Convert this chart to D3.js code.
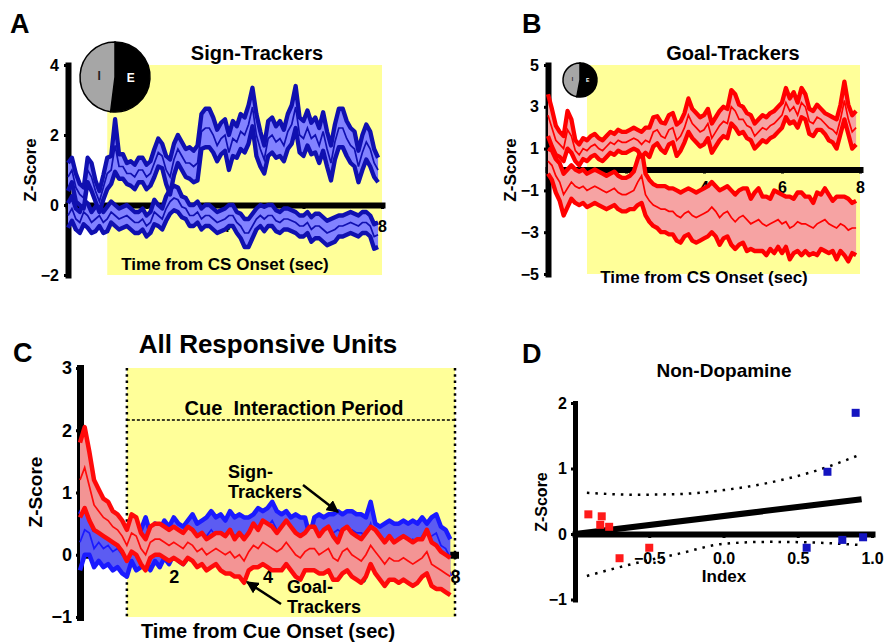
<!DOCTYPE html>
<html>
<head>
<meta charset="utf-8">
<script src="https://cdn.jsdelivr.net/npm/d3@7"></script>
<style>
  body { margin: 0; background: #fff; }
  svg { display: block; font-family: "Liberation Sans", Arial, sans-serif; font-weight: bold; }
  text { white-space: pre; }
</style>
</head>
<body>
<div id="figure"></div>
<script>
// bin width of the PSTH traces (sec)
const binSec = 0.1;

// A: sign-trackers, excitatory / inhibitory units (mean and SEM, z-score)
const signExcMean = [
  0.8, 1.0, 0.5, 0.3, 0.2, 1.0, 0.8, 0.4, 0.1, 0.5,
  0.9, 1.0, 1.7, 1.1, 1.1, 0.9, 0.9, 0.8, 1.0, 1.0,
  0.8, 0.9, 1.2, 1.5, 1.4, 1.0, 0.8, 1.3, 1.6, 1.4,
  1.2, 1.2, 1.1, 1.2, 2.1, 2.2, 2.2, 2.0, 1.7, 1.9,
  2.0, 1.5, 1.9, 1.8, 2.1, 2.0, 2.3, 2.8, 2.0, 1.6,
  1.3, 1.9, 2.0, 1.8, 1.9, 1.7, 2.1, 2.3, 2.8, 2.0,
  1.9, 2.2, 1.9, 2.0, 1.7, 2.1, 1.6, 1.2, 1.8, 2.2,
  2.2, 1.9, 1.7, 1.6, 1.1, 1.5, 1.8, 1.6, 1.2, 1.0];
const signExcSem = [
  0.4, 0.35, 0.4, 0.3, 0.3, 0.35, 0.4, 0.3, 0.3, 0.35,
  0.45, 0.4, 0.75, 0.35, 0.35, 0.3, 0.35, 0.35, 0.35, 0.35,
  0.35, 0.35, 0.4, 0.4, 0.35, 0.4, 0.5, 0.45, 0.4, 0.4,
  0.4, 0.45, 0.45, 0.5, 0.5, 0.55, 0.55, 0.5, 0.45, 0.45,
  0.45, 0.5, 0.5, 0.45, 0.5, 0.5, 0.55, 0.55, 0.6, 0.5,
  0.4, 0.5, 0.5, 0.45, 0.5, 0.45, 0.5, 0.55, 0.6, 0.5,
  0.5, 0.5, 0.45, 0.5, 0.5, 0.55, 0.5, 0.5, 0.5, 0.55,
  0.55, 0.5, 0.5, 0.5, 0.45, 0.5, 0.5, 0.5, 0.4, 0.35];
const signInhMean = [
  -0.3, -0.1, -0.4, -0.5, -0.2, -0.3, -0.5, -0.4, -0.3, -0.5,
  -0.4, -0.2, -0.3, -0.4, -0.35, -0.3, -0.4, -0.5, -0.5, -0.4,
  -0.6, -0.5, -0.2, -0.3, -0.4, -0.1, 0.1, 0.2, 0.15, -0.05,
  -0.1, -0.3, -0.3, -0.2, -0.4, -0.3, -0.3, -0.4, -0.5, -0.45,
  -0.4, -0.3, -0.3, -0.5, -0.6, -0.8, -0.8, -0.6, -0.4, -0.3,
  -0.4, -0.3, -0.3, -0.45, -0.5, -0.4, -0.4, -0.45, -0.5, -0.6,
  -0.6, -0.5, -0.7, -0.6, -0.6, -0.7, -0.8, -0.75, -0.7, -0.6,
  -0.6, -0.55, -0.5, -0.55, -0.6, -0.5, -0.5, -0.6, -0.9, -0.85];
const signInhSem = [
  0.35, 0.35, 0.3, 0.3, 0.35, 0.35, 0.3, 0.35, 0.3, 0.3,
  0.35, 0.3, 0.3, 0.3, 0.3, 0.3, 0.3, 0.3, 0.3, 0.3,
  0.3, 0.3, 0.35, 0.3, 0.3, 0.35, 0.35, 0.35, 0.35, 0.3,
  0.3, 0.3, 0.3, 0.3, 0.3, 0.3, 0.3, 0.3, 0.3, 0.3,
  0.3, 0.3, 0.3, 0.3, 0.35, 0.4, 0.4, 0.35, 0.3, 0.3,
  0.35, 0.3, 0.3, 0.3, 0.3, 0.3, 0.3, 0.3, 0.3, 0.3,
  0.3, 0.3, 0.35, 0.35, 0.35, 0.35, 0.35, 0.35, 0.35, 0.3,
  0.3, 0.3, 0.3, 0.3, 0.3, 0.3, 0.3, 0.3, 0.35, 0.35];

// B: goal-trackers
const goalExcMean = [
  2.6, 2.0, 1.4, 1.2, 1.0, 1.9, 1.6, 0.9, 0.7, 1.0,
  0.9, 1.1, 1.2, 1.0, 0.9, 1.1, 1.3, 1.2, 1.4, 1.3,
  1.3, 1.4, 1.5, 1.4, 1.2, 1.4, 1.3, 1.8, 1.9, 1.6,
  1.5, 1.9, 2.0, 1.4, 1.6, 2.0, 2.6, 2.2, 2.0, 1.8,
  1.9, 2.2, 1.5, 1.8, 2.1, 2.3, 2.2, 3.0, 2.8, 2.4,
  2.4, 2.1, 2.0, 1.6, 1.8, 2.0, 1.9, 2.1, 2.2, 2.4,
  2.6, 3.2, 2.8, 3.0, 2.6, 3.2, 3.0, 2.3, 2.2, 2.5,
  2.4, 2.2, 2.0, 1.9, 1.7, 2.4, 3.3, 2.4, 1.8, 2.0];
const goalExcSem = [
  1.0, 0.9, 0.7, 0.6, 0.6, 0.9, 0.8, 0.5, 0.5, 0.5,
  0.5, 0.5, 0.5, 0.5, 0.5, 0.5, 0.5, 0.5, 0.5, 0.5,
  0.5, 0.5, 0.5, 0.5, 0.6, 0.6, 0.7, 0.7, 0.65, 0.65,
  0.7, 0.7, 0.7, 0.75, 0.7, 0.7, 0.8, 0.7, 0.7, 0.7,
  0.7, 0.7, 0.7, 0.7, 0.7, 0.7, 0.7, 0.8, 0.8, 0.7,
  0.6, 0.6, 0.6, 0.6, 0.6, 0.6, 0.6, 0.6, 0.6, 0.6,
  0.6, 0.7, 0.6, 0.7, 0.6, 0.7, 0.6, 0.6, 0.6, 0.6,
  0.5, 0.5, 0.6, 0.6, 0.7, 0.7, 0.9, 0.7, 0.8, 0.8];
const goalInhMean = [
  0.4, 0.2, -0.3, -0.6, -1.2, -0.9, -0.6, -0.8, -0.9, -0.8,
  -1.0, -0.9, -0.8, -0.9, -1.0, -1.1, -1.0, -0.9, -1.1, -1.2,
  -1.2, -1.1, -1.0, -0.6, -0.3, -1.2, -1.5, -1.7, -1.8, -1.9,
  -1.9, -2.0, -2.0, -2.2, -2.3, -2.1, -2.0, -2.2, -2.3, -2.2,
  -2.1, -2.0, -1.8, -2.0, -2.3, -2.1, -2.0, -2.3, -2.5, -2.3,
  -2.2, -2.4, -2.6, -2.5, -2.4, -2.6, -2.7, -2.6, -2.5, -2.4,
  -2.6, -2.5, -2.8, -2.7, -2.5, -2.6, -2.6, -2.7, -2.8, -2.6,
  -2.5, -2.4, -2.6, -2.7, -2.8, -2.6, -2.7, -2.9, -2.8, -2.8];
const goalInhSem = [
  0.6, 0.7, 0.8, 0.9, 1.0, 0.9, 0.8, 0.8, 0.8, 0.8,
  0.8, 0.8, 0.8, 0.8, 0.8, 0.8, 0.8, 0.8, 0.8, 0.8,
  0.8, 0.8, 0.9, 1.1, 1.3, 1.0, 1.0, 1.0, 1.0, 1.1,
  1.1, 1.1, 1.1, 1.2, 1.2, 1.1, 1.1, 1.2, 1.2, 1.2,
  1.2, 1.2, 1.2, 1.2, 1.3, 1.2, 1.2, 1.3, 1.3, 1.3,
  1.3, 1.5, 1.2, 1.4, 1.5, 1.3, 1.4, 1.2, 1.5, 1.3,
  1.4, 1.2, 1.5, 1.3, 1.4, 1.5, 1.3, 1.4, 1.2, 1.5,
  1.3, 1.5, 1.4, 1.2, 1.5, 1.3, 1.4, 1.5, 1.2, 1.3];

// C: all responsive units
const allSignMean = [
  0.2, 0.4, 0.35, 0.1, 0.2, 0.1, 0.15, 0.05, 0.1, 0.0,
  -0.05, 0.25, 0.05, 0.1, 0.25, 0.05, 0.2, 0.1, 0.25, 0.15,
  0.3, 0.2, 0.15, 0.25, 0.35, 0.2, 0.25, 0.3, 0.4, 0.3,
  0.35, 0.25, 0.4, 0.3, 0.35, 0.3, 0.3, 0.35, 0.45, 0.4,
  0.45, 0.55, 0.4, 0.35, 0.4, 0.3, 0.35, 0.3, 0.3, 0.05,
  0.3, 0.35, 0.3, 0.35, 0.35, 0.4, 0.35, 0.4, 0.4, 0.35,
  0.35, 0.3, 0.5, 0.2, 0.15, 0.2, 0.25, 0.2, 0.2, 0.25,
  0.2, 0.25, 0.2, 0.3, 0.2, 0.3, 0.35, 0.15, 0.1, -0.05];
const allSignSem = [
  0.45, 0.4, 0.35, 0.3, 0.3, 0.3, 0.3, 0.3, 0.3, 0.3,
  0.3, 0.35, 0.3, 0.3, 0.35, 0.3, 0.3, 0.3, 0.3, 0.3,
  0.3, 0.3, 0.3, 0.3, 0.3, 0.3, 0.3, 0.3, 0.3, 0.3,
  0.3, 0.3, 0.3, 0.3, 0.3, 0.3, 0.3, 0.3, 0.3, 0.3,
  0.3, 0.3, 0.3, 0.3, 0.3, 0.3, 0.3, 0.3, 0.3, 0.25,
  0.3, 0.3, 0.3, 0.3, 0.3, 0.3, 0.3, 0.3, 0.3, 0.3,
  0.3, 0.3, 0.35, 0.3, 0.3, 0.3, 0.3, 0.3, 0.3, 0.3,
  0.3, 0.3, 0.3, 0.3, 0.3, 0.3, 0.3, 0.3, 0.3, 0.3];
const allGoalMean = [
  1.2, 1.4, 1.1, 0.8, 0.7, 0.6, 0.55, 0.45, 0.4, 0.3,
  0.15, 0.35, 0.3, 0.1, 0.0, 0.2, 0.25, 0.25, 0.2, 0.15,
  0.2, 0.15, 0.1, 0.2, 0.15, 0.05, 0.1, 0.0, 0.05, 0.1,
  0.05, 0.0, 0.05, -0.05, 0.0, -0.1, 0.05, 0.15, 0.1, 0.2,
  0.15, 0.1, 0.05, 0.1, 0.2, 0.1, 0.0, -0.05, 0.05, 0.1,
  0.1, 0.0, 0.05, 0.1, -0.05, -0.1, 0.05, 0.1, 0.0, -0.05,
  -0.1, 0.0, 0.15, 0.05, -0.05, -0.15, -0.05, -0.1, -0.1, -0.05,
  -0.1, -0.15, -0.1, -0.05, 0.05, -0.15, -0.2, -0.25, -0.3, -0.35];
const allGoalSem = [
  0.6, 0.65, 0.55, 0.4, 0.35, 0.3, 0.3, 0.25, 0.25, 0.25,
  0.25, 0.3, 0.3, 0.25, 0.25, 0.25, 0.25, 0.25, 0.25, 0.25,
  0.25, 0.25, 0.25, 0.25, 0.25, 0.25, 0.25, 0.25, 0.25, 0.25,
  0.3, 0.3, 0.35, 0.3, 0.35, 0.35, 0.3, 0.35, 0.3, 0.35,
  0.35, 0.35, 0.3, 0.35, 0.35, 0.35, 0.35, 0.35, 0.3, 0.35,
  0.35, 0.3, 0.35, 0.35, 0.35, 0.3, 0.35, 0.35, 0.35, 0.35,
  0.35, 0.35, 0.3, 0.35, 0.35, 0.35, 0.35, 0.3, 0.35, 0.35,
  0.35, 0.35, 0.35, 0.3, 0.35, 0.35, 0.35, 0.3, 0.3, 0.3];

// D: non-dopamine units, cue index vs z-score
const redIndex  = [-0.91, -0.82, -0.83, -0.77, -0.70, -0.50];
const redZ      = [0.30, 0.27, 0.14, 0.11, -0.37, -0.21];
const blueIndex = [0.56, 0.70, 0.80, 0.89, 0.94];
const blueZ     = [-0.21, 0.95, -0.09, 1.85, -0.05];
const fitIndex  = [-1.0, 0.93];
const fitZ      = [0.0, 0.53];
const ciIndex   = [-0.92, -0.6, -0.3, 0.0, 0.3, 0.6, 0.93];
const ciUpper   = [0.63, 0.60, 0.61, 0.67, 0.78, 0.95, 1.22];
const ciLower   = [-0.64, -0.45, -0.30, -0.15, -0.12, -0.13, -0.17];

// unit type proportions (E = excitatory, I = inhibitory)
const pieLabels = ["E", "I"];
const pieA = [52, 48];
const pieB = [53, 47];

const timeTicks = [2, 4, 6, 8];
const ticksAy = [-2, 0, 2, 4];
const ticksBy = [-5, -3, -1, 1, 3, 5];
const ticksCy = [-1, 0, 1, 2, 3];
const ticksDy = [-1, 0, 1, 2];
const ticksDx = [-0.5, 0.0, 0.5, 1.0];

const W = 893, H = 644;
const YELLOW = "#ffff99";

const svg = d3.select("#figure").append("svg")
  .attr("width", W).attr("height", H);
svg.append("rect").attr("width", W).attr("height", H).attr("fill", "#fff");

svg.append("defs").append("marker")
  .attr("id", "arrow").attr("viewBox", "0 0 10 10")
  .attr("refX", 9).attr("refY", 5)
  .attr("markerWidth", 5).attr("markerHeight", 5)
  .attr("orient", "auto")
  .append("path").attr("d", "M0,0L10,5L0,10z").attr("fill", "#000");

function txt(x, y, s, size, anchor, rot) {
  const t = svg.append("text")
    .attr("x", x).attr("y", y)
    .attr("font-size", size)
    .attr("text-anchor", anchor || "middle")
    .attr("fill", "#000")
    .text(s);
  if (rot) t.attr("transform", `rotate(${rot},${x},${y})`);
  return t;
}

// thick black axes in the style of the figure
function styleAxis(g, fs, lw) {
  g.select(".domain").attr("stroke", "#000").attr("stroke-width", lw).attr("stroke-linecap", "square");
  g.selectAll(".tick line").attr("stroke", "#000").attr("stroke-width", 3);
  g.selectAll(".tick text").attr("font-size", fs).attr("font-weight", "bold")
    .attr("font-family", "Liberation Sans, Arial, sans-serif").attr("fill", "#000");
}

function drawBand(g, x, y, mean, sem, lineColor, fillColor, edgeW) {
  const pts = mean.map((m, i) => ({t: i * binSec, m: m, s: sem[i]}));
  g.append("path").datum(pts)
    .attr("fill", fillColor)
    .attr("d", d3.area().x(d => x(d.t)).y0(d => y(d.m - d.s)).y1(d => y(d.m + d.s)));
  [d => d.m + d.s, d => d.m - d.s].forEach(f => {
    g.append("path").datum(pts)
      .attr("fill", "none").attr("stroke", lineColor).attr("stroke-width", edgeW)
      .attr("stroke-linejoin", "round")
      .attr("d", d3.line().x(d => x(d.t)).y(d => y(f(d))));
  });
  g.append("path").datum(pts)
    .attr("fill", "none").attr("stroke", lineColor).attr("stroke-width", 1.7)
    .attr("d", d3.line().x(d => x(d.t)).y(d => y(d.m)));
}

function drawPie(cx, cy, r, values, fs) {
  const arcs = d3.pie().sort(null)(values);
  const arc = d3.arc().innerRadius(0).outerRadius(r);
  const g = svg.append("g").attr("transform", `translate(${cx},${cy})`);
  g.selectAll("path").data(arcs).join("path")
    .attr("d", arc)
    .attr("fill", (d, i) => i === 0 ? "#000" : "#a6a6a6")
    .attr("stroke", "#000").attr("stroke-width", 1.5);
  g.selectAll("text").data(arcs).join("text")
    .attr("transform", d => `translate(${d3.arc().innerRadius(r * 0.45).outerRadius(r * 0.45).centroid(d)})`)
    .attr("text-anchor", "middle").attr("dy", "0.35em")
    .attr("font-size", fs)
    .attr("fill", (d, i) => i === 0 ? "#fff" : "#222")
    .text((d, i) => pieLabels[i]);
}

const intFmt = d3.format("d");

// ---------- Panel A ----------
{
  const x = d3.scaleLinear().domain([0, 8]).range([68, 382]);
  const y = d3.scaleLinear().domain([-2, 4]).range([275, 65]);
  svg.append("rect").attr("x", x(1)).attr("y", y(4)).attr("width", x(8) - x(1)).attr("height", y(-2) - y(4)).attr("fill", YELLOW);
  const gx = svg.append("g").attr("transform", `translate(0,${y(0)})`)
    .call(d3.axisBottom(x).tickValues(timeTicks).tickFormat(intFmt).tickSize(4).tickSizeOuter(0).tickPadding(12));
  styleAxis(gx, 16, 6);
  const gy = svg.append("g").attr("transform", `translate(${x(0)},0)`)
    .call(d3.axisLeft(y).tickValues(ticksAy).tickFormat(intFmt).tickSize(4).tickSizeOuter(0).tickPadding(5));
  styleAxis(gy, 16, 6);
  const g = svg.append("g");
  drawBand(g, x, y, signInhMean, signInhSem, "#1010b0", "#8282ff", 4.3);
  drawBand(g, x, y, signExcMean, signExcSem, "#1010b0", "#8282ff", 4.3);
  drawPie(115, 77, 35, pieA, 12);
  txt(10, 33, "A", 27, "start");
  txt(257, 60, "Sign-Trackers", 20);
  txt(225, 270, "Time from CS Onset (sec)", 17);
  txt(36, 170, "Z-Score", 17, "middle", -90);
}

// ---------- Panel B ----------
{
  const x = d3.scaleLinear().domain([0, 8]).range([548, 860]);
  const y = d3.scaleLinear().domain([-5, 5]).range([274, 65]);
  svg.append("rect").attr("x", x(1)).attr("y", y(5)).attr("width", x(8) - x(1)).attr("height", y(-5) - y(5)).attr("fill", YELLOW);
  const gx = svg.append("g").attr("transform", `translate(0,${y(0)})`)
    .call(d3.axisBottom(x).tickValues(timeTicks).tickFormat(intFmt).tickSize(4).tickSizeOuter(0).tickPadding(8));
  styleAxis(gx, 16, 6);
  const gy = svg.append("g").attr("transform", `translate(${x(0)},0)`)
    .call(d3.axisLeft(y).tickValues(ticksBy).tickFormat(intFmt).tickSize(4).tickSizeOuter(0).tickPadding(5));
  styleAxis(gy, 16, 6);
  const g = svg.append("g");
  drawBand(g, x, y, goalInhMean, goalInhSem, "#ff0000", "#f6a3a3", 4.3);
  drawBand(g, x, y, goalExcMean, goalExcSem, "#ff0000", "#f6a3a3", 4.3);
  drawPie(580, 80, 17, pieB, 5);
  txt(522, 33, "B", 27, "start");
  txt(733, 60, "Goal-Trackers", 20);
  txt(704, 283, "Time from CS Onset (sec)", 17);
  txt(516, 170, "Z-Score", 17, "middle", -90);
}

// ---------- Panel C ----------
{
  const x = d3.scaleLinear().domain([0, 8]).range([80, 455]);
  const y = d3.scaleLinear().domain([-1, 3]).range([617, 368]);
  svg.append("rect").attr("x", x(1)).attr("y", y(3)).attr("width", x(8) - x(1)).attr("height", y(-1) - y(3)).attr("fill", YELLOW);
  [1, 8].forEach(t => svg.append("line")
    .attr("x1", x(t)).attr("x2", x(t)).attr("y1", y(3)).attr("y2", y(-1))
    .attr("stroke", "#000").attr("stroke-width", 2.5).attr("stroke-dasharray", "2.5,3.8"));
  svg.append("line").attr("x1", x(1)).attr("x2", x(8)).attr("y1", 420).attr("y2", 420)
    .attr("stroke", "#000").attr("stroke-width", 1.5).attr("stroke-dasharray", "3,2");
  const gx = svg.append("g").attr("transform", `translate(0,${y(0)})`)
    .call(d3.axisBottom(x).tickValues(timeTicks).tickFormat(intFmt).tickSize(4).tickSizeOuter(0).tickPadding(11));
  styleAxis(gx, 18, 7);
  const gy = svg.append("g").attr("transform", `translate(${x(0)},0)`)
    .call(d3.axisLeft(y).tickValues(ticksCy).tickFormat(intFmt).tickSize(4).tickSizeOuter(0).tickPadding(4));
  styleAxis(gy, 18, 7);
  const g = svg.append("g");
  drawBand(g, x, y, allSignMean, allSignSem, "#1a1aff", "#5c5cf2", 4.5);
  drawBand(g, x, y, allGoalMean, allGoalSem, "#ff0a0a", "#f39494", 4.5);
  txt(13, 362, "C", 27, "start");
  txt(268, 353, "All Responsive Units", 26);
  txt(294, 415, "Cue  Interaction Period", 20);
  txt(268, 638, "Time from Cue Onset (sec)", 20);
  txt(42, 492, "Z-Score", 19, "middle", -90);
  txt(228, 478, "Sign-", 18, "start");
  txt(228, 498, "Trackers", 18, "start");
  txt(287, 593, "Goal-", 18, "start");
  txt(287, 613, "Trackers", 18, "start");
  svg.append("line").attr("x1", 303).attr("y1", 485).attr("x2", 338).attr("y2", 512)
    .attr("stroke", "#000").attr("stroke-width", 2.5).attr("marker-end", "url(#arrow)");
  svg.append("line").attr("x1", 281).attr("y1", 604).attr("x2", 247).attr("y2", 582)
    .attr("stroke", "#000").attr("stroke-width", 2.5).attr("marker-end", "url(#arrow)");
}

// ---------- Panel D ----------
{
  const x = d3.scaleLinear().domain([-1, 1]).range([575, 872]);
  const y = d3.scaleLinear().domain([-1, 2]).range([599.5, 403]);
  const gx = svg.append("g").attr("transform", `translate(0,${y(0)})`)
    .call(d3.axisBottom(x).tickValues(ticksDx).tickFormat(d3.format(".1f")).tickSize(4).tickSizeOuter(0).tickPadding(15));
  styleAxis(gx, 16, 6);
  const gy = svg.append("g").attr("transform", `translate(${x(-1)},0)`)
    .call(d3.axisLeft(y).tickValues(ticksDy).tickFormat(intFmt).tickSize(4).tickSizeOuter(0).tickPadding(4));
  styleAxis(gy, 16, 5);

  const ci = ciIndex.map((v, i) => ({v: v, hi: ciUpper[i], lo: ciLower[i]}));
  ["hi", "lo"].forEach(k => svg.append("path").datum(ci)
    .attr("fill", "none").attr("stroke", "#000").attr("stroke-width", 2.5)
    .attr("stroke-dasharray", "2.5,6")
    .attr("d", d3.line().curve(d3.curveMonotoneX).x(d => x(d.v)).y(d => y(d[k]))));
  svg.append("path").datum(fitIndex.map((v, i) => [v, fitZ[i]]))
    .attr("fill", "none").attr("stroke", "#000").attr("stroke-width", 6)
    .attr("d", d3.line().x(d => x(d[0])).y(d => y(d[1])));

  const sq = 8;
  svg.selectAll(".redpt").data(redIndex.map((v, i) => [v, redZ[i]])).join("rect")
    .attr("class", "redpt")
    .attr("x", d => x(d[0]) - sq / 2).attr("y", d => y(d[1]) - sq / 2)
    .attr("width", sq).attr("height", sq).attr("fill", "#ff1a1a");
  svg.selectAll(".bluept").data(blueIndex.map((v, i) => [v, blueZ[i]])).join("rect")
    .attr("class", "bluept")
    .attr("x", d => x(d[0]) - sq / 2).attr("y", d => y(d[1]) - sq / 2)
    .attr("width", sq).attr("height", sq).attr("fill", "#1414c0");

  txt(522, 363, "D", 27, "start");
  txt(724, 377, "Non-Dopamine", 19);
  txt(724, 582, "Index", 17);
  txt(547, 502, "Z-Score", 16, "middle", -90);
}
</script>
</body>
</html>
